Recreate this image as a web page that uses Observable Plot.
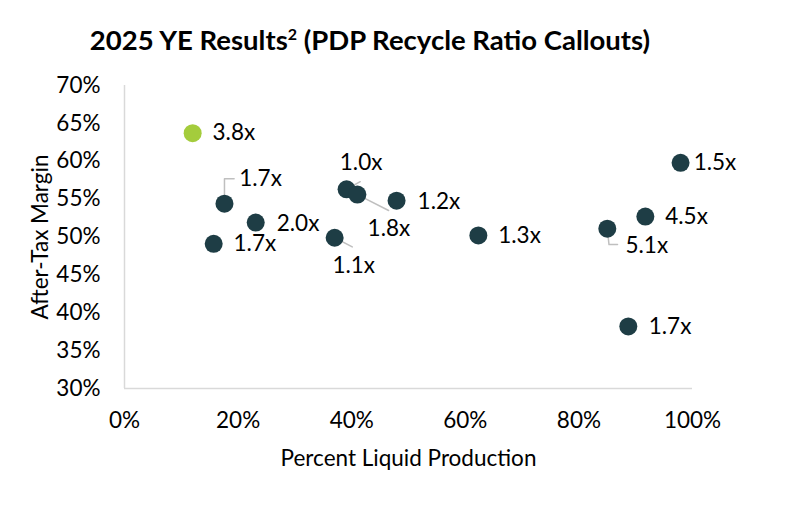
<!DOCTYPE html>
<html>
<head>
<meta charset="utf-8">
<script src="https://cdn.jsdelivr.net/npm/d3@7"></script>
<script src="https://cdn.jsdelivr.net/npm/@observablehq/plot@0.6"></script>
<style>
  body { margin: 0; background: #fff; font-family: Lato, "Open Sans", sans-serif; }
  #title { height: 64px; width: 796px; box-sizing: border-box; padding-top: 25px; text-align: center;
           font-size: 27.5px; font-weight: bold; color: #000; line-height: 30px; padding-right: 56px; }
  #title sup { font-size: 16px; vertical-align: 10px; line-height: 0; }
</style>
</head>
<body>
<div id="title">2025 YE Results<sup>2</sup> (PDP Recycle Ratio Callouts)</div>
<div id="chart"></div>
<script>
// Data
const liquidPct   = [12.0, 17.6, 15.7, 23.1, 37.0, 39.1, 41.0, 47.9, 62.3, 85.0, 91.7, 97.9, 88.7];
const afterTaxPct = [63.7, 54.4, 49.1, 51.9, 49.9, 56.3, 55.6, 54.8, 50.2, 51.1, 52.7, 59.8, 38.2];
const ratioLabels = ["3.8x","1.7x","1.7x","2.0x","1.1x","1.0x","1.8x","1.2x","1.3x","5.1x","4.5x","1.5x","1.7x"];
const highlighted = [true, false, false, false, false, false, false, false, false, false, false, false, false];
// Callout label anchors (data units)
const labelX = [15.5, 20.2, 19.2, 26.8, 36.6, 37.9, 42.8, 51.6, 65.8, 88.2, 95.2, 100.2, 92.3];
const labelY = [63.7, 57.7, 49.1, 51.8, 46.2, 59.8, 51.1, 54.7, 50.1, 48.9, 52.7, 59.8, 38.2];
// Leader lines (data units)
const leaderIds = ["a","a","a","b","b","c","c","d","d","e","e","e"];
const leaderX   = [17.6,17.6,19.3, 39.1,41.5, 41.0,46.5, 37.0,40.1, 85.0,85.3,86.8];
const leaderY   = [54.4,57.7,57.7, 56.3,57.3, 55.6,53.5, 49.9,48.7, 51.1,49.0,49.0];
const xTicks = [0, 20, 40, 60, 80, 100];
const yTicks = [30, 35, 40, 45, 50, 55, 60, 65, 70];

const points = liquidPct.map((x, i) => ({x, y: afterTaxPct[i], label: ratioLabels[i], hi: highlighted[i], lx: labelX[i], ly: labelY[i]}));
const leaders = leaderX.map((x, i) => ({x, y: leaderY[i], id: leaderIds[i]}));

const FS = 22.5;
const chart = Plot.plot({
  width: 796,
  height: 430,
  marginLeft: 124,
  marginRight: 104,
  marginTop: 21,
  marginBottom: 106,
  style: {fontFamily: "Lato, 'Open Sans', sans-serif", fontSize: FS + "px", color: "#000", background: "#fff"},
  x: {domain: [0, 100], ticks: xTicks, tickFormat: d => d + "%", label: null},
  y: {domain: [30, 70], ticks: yTicks, tickFormat: d => d + "%", label: null},
  marks: [
    Plot.ruleX([0], {stroke: "#d9d9d9", strokeWidth: 1.5}),
    Plot.ruleY([30], {stroke: "#d9d9d9", strokeWidth: 1.5}),
    Plot.axisX({ticks: xTicks, tickFormat: d => d + "%", tickSize: 0, tickPadding: 24, fontSize: FS, label: null}),
    Plot.axisY({ticks: yTicks, tickFormat: d => d + "%", tickSize: 0, tickPadding: 24, fontSize: FS, label: null}),
    Plot.text(["Percent Liquid Production"], {frameAnchor: "bottom", textAnchor: "middle", dy: 77, fontSize: FS}),
    Plot.text(["After-Tax Margin"], {frameAnchor: "left", textAnchor: "middle", rotate: -90, dx: -84, fontSize: FS}),
    Plot.line(leaders, {x: "x", y: "y", z: "id", stroke: "#bfbfbf", strokeWidth: 1.5}),
    Plot.dot(points, {x: "x", y: "y", r: 9, fill: d => d.hi ? "#a4cc3c" : "#1e3d45", stroke: "none"}),
    Plot.text(points, {x: "lx", y: "ly", text: "label", textAnchor: "start", lineAnchor: "middle", fontSize: FS, fill: "#000"})
  ]
});
document.getElementById("chart").appendChild(chart);
</script>
</body>
</html>
